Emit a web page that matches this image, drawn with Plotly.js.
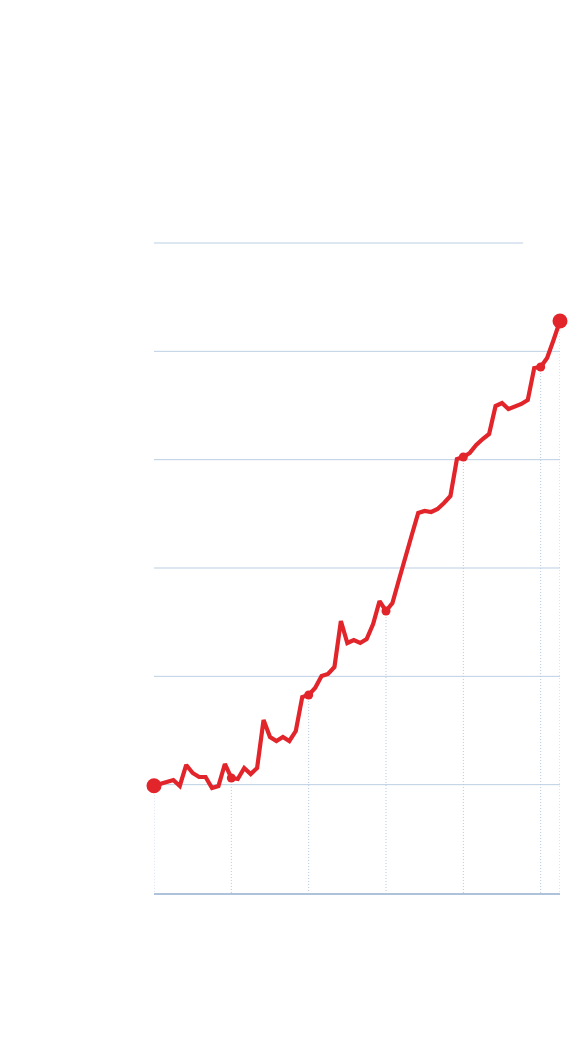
<!DOCTYPE html>
<html>
<head>
<meta charset="utf-8">
<script src="https://cdn.plot.ly/plotly-3.0.1.min.js"></script>
<style>html,body{margin:0;padding:0;background:#fff;}#chart{width:576px;height:1040px;}</style>
</head>
<body>
<div id="chart"></div>
<script>
// Monthly index values, start = ~100
const values = [
  99, 100.6, 102.5, 104.3, 98.8, 118.2, 110.8, 107.1, 107.1, 96.9, 98.8, 119.1,
  106.2, 105.2, 115.4, 109.8, 115.4, 159.7, 144.0, 140.3, 144.0, 140.3, 149.5, 180.9,
  182.8, 189.2, 200.3, 202.2, 208.6, 251.1, 230.8, 233.5, 230.8, 234.5, 248.3, 269.5,
  260.3, 267.7, 288.9, 311.1, 330.5, 350.8, 352.6, 351.7, 354.5, 360.0, 366.5, 400.6,
  402.5, 406.2, 413.5, 419.1, 423.7, 449.5, 452.3, 446.8, 448.6, 451.4, 455.1, 484.6,
  485.5, 493.8, 510.5, 528.0
];
// Highlighted points (indices into values) and y gridline values
const markerIdx = [0, 12, 24, 36, 48, 60, 63];
const gridVals = [100, 200, 300, 400, 500, 600];
const yMax = 600;

const xs = values.map((_, i) => i);
const red = '#e2242b';
const gridColor = '#bccfe3';

// drop lines from highlighted points to the baseline
const dropX = [], dropY = [];
markerIdx.forEach(i => { dropX.push(xs[i], xs[i], null); dropY.push(values[i], 0, null); });

const traces = [
  {x: dropX, y: dropY, mode: 'lines', line: {color: '#b3c8de', width: 1, dash: '1px,2px'}, hoverinfo: 'skip', showlegend: false, cliponaxis: false},
  {x: xs, y: values, mode: 'lines', line: {color: red, width: 4.2, shape: 'linear'}, showlegend: false, cliponaxis: false},
  {x: markerIdx.map(i => xs[i]), y: markerIdx.map(i => values[i]), mode: 'markers', cliponaxis: false,
   marker: {color: red, opacity: 1, line: {width: 0},
            size: markerIdx.map((i, k) => (k === 0 || k === markerIdx.length - 1) ? 15 : 9)}, showlegend: false}
];

const shapes = gridVals.map(v => ({
  type: 'line', xref: 'paper', yref: 'paper', x0: 0, x1: v === yMax ? 0.909 : 1, y0: v / yMax, y1: v / yMax,
  line: {color: gridColor, width: 1}, layer: 'below'
}));

const layout = {
  width: 576, height: 1040,
  margin: {l: 154, r: 16, t: 243, b: 147, pad: 0},
  paper_bgcolor: '#fff', plot_bgcolor: '#fff',
  xaxis: {range: [0, 63], showgrid: false, zeroline: false, showticklabels: false, ticks: '',
          showline: true, linecolor: '#aec2d9', linewidth: 2, fixedrange: true},
  yaxis: {range: [0, yMax], showgrid: false, zeroline: false, showticklabels: false, ticks: '', showline: false, fixedrange: true},
  shapes: shapes,
  showlegend: false
};

Plotly.newPlot('chart', traces, layout, {displayModeBar: false, staticPlot: true});
</script>
</body>
</html>
